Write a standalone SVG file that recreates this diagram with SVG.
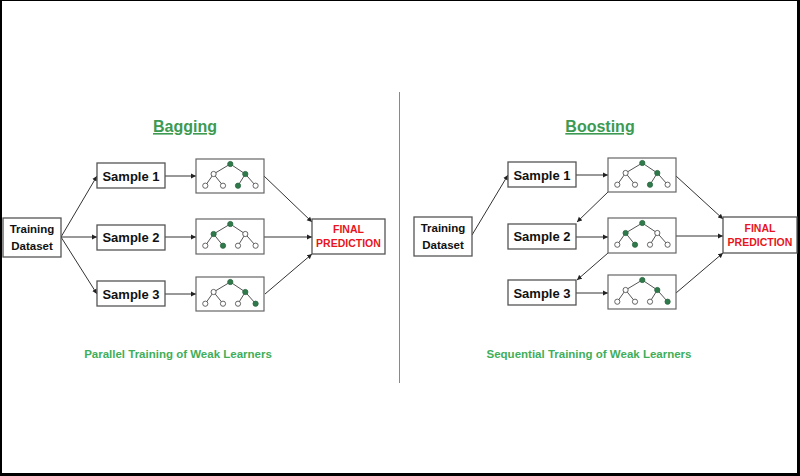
<svg xmlns="http://www.w3.org/2000/svg" width="800" height="476" viewBox="0 0 800 476">
<defs>
<style>
.box{fill:#fff;stroke:#555;stroke-width:1.3}
.tbox{fill:#fff;stroke:#666;stroke-width:1.2}
.lbl{font-family:"Liberation Sans",Arial,sans-serif;font-weight:bold;font-size:13px;fill:#111;text-anchor:middle}
.lbl2{font-family:"Liberation Sans",Arial,sans-serif;font-weight:bold;font-size:11.5px;fill:#111;text-anchor:middle}
.fin{font-family:"Liberation Sans",Arial,sans-serif;font-weight:bold;font-size:10.5px;fill:#e8141e;text-anchor:middle}
.title{font-family:"Liberation Sans",Arial,sans-serif;font-weight:bold;font-size:16px;fill:#3c9a52;text-anchor:middle;text-decoration:underline}
.sub{font-family:"Liberation Sans",Arial,sans-serif;font-weight:bold;font-size:11.5px;fill:#3fae5a;text-anchor:middle}
.conn line{stroke:#333;stroke-width:1;marker-end:url(#ah)}
.edge{stroke:#555;stroke-width:1;fill:none}
.n{stroke:#555;stroke-width:0.9;fill:#fff}
.g{fill:#2f7a4a;stroke:#2f6a44}
</style>
<marker id="ah" markerWidth="6" markerHeight="6" refX="5" refY="3" orient="auto" markerUnits="userSpaceOnUse">
<path d="M0,0.5 L5,3 L0,5.5 Z" fill="#222"/>
</marker>
<path id="tedges" class="edge" d="M34.3,5 L17.6,15 M34.3,5 L49.3,15 M17.6,15 L9.3,26.7 M17.6,15 L27,26.7 M49.3,15 L42,26.7 M49.3,15 L59.6,26.7"/>
</defs>
<rect x="0" y="0" width="800" height="476" fill="#000"/>
<rect x="2" y="1" width="795" height="472" fill="#fff"/>
<line x1="399.5" y1="92" x2="399.5" y2="383" stroke="#6a9a80" stroke-width="1"/>

<text class="title" x="185" y="132">Bagging</text>
<text class="title" x="600" y="132">Boosting</text>
<text class="sub" x="178" y="358">Parallel Training of Weak Learners</text>
<text class="sub" x="589" y="358">Sequential Training of Weak Learners</text>

<g class="conn" id="connectors">
<line x1="61" y1="237" x2="97" y2="176"/>
<line x1="61" y1="237" x2="97" y2="237"/>
<line x1="61" y1="237" x2="97" y2="294"/>
<line x1="165" y1="176" x2="196" y2="176"/>
<line x1="165" y1="237" x2="196" y2="237"/>
<line x1="165" y1="294" x2="196" y2="294"/>
<line x1="264" y1="176" x2="312" y2="222"/>
<line x1="264" y1="237" x2="312" y2="237"/>
<line x1="265" y1="294" x2="312" y2="254"/>
<line x1="472" y1="235" x2="508" y2="175"/>
<line x1="576" y1="175" x2="608" y2="175"/>
<line x1="576" y1="237" x2="608" y2="237"/>
<line x1="576" y1="293" x2="608" y2="293"/>
<line x1="608" y1="192" x2="577" y2="222"/>
<line x1="608" y1="253" x2="577" y2="280"/>
<line x1="676" y1="176" x2="723" y2="219"/>
<line x1="676" y1="236" x2="723" y2="236"/>
<line x1="676" y1="293" x2="723" y2="253"/>
</g>

<g id="bag-training"><rect class="box" x="3" y="218" width="58" height="39"/><text class="lbl2" x="32" y="233">Training</text><text class="lbl2" x="32" y="250">Dataset</text></g>
<g id="bag-sample1"><rect class="box" x="97" y="163" width="68" height="25"/><text class="lbl" x="131" y="181">Sample 1</text></g>
<g id="bag-sample2"><rect class="box" x="97" y="225" width="68" height="25"/><text class="lbl" x="131" y="242">Sample 2</text></g>
<g id="bag-sample3"><rect class="box" x="97" y="281" width="68" height="25"/><text class="lbl" x="131" y="299">Sample 3</text></g>
<g id="bag-final"><rect class="box" x="312" y="219" width="73" height="35"/><text class="fin" x="348.5" y="233">FINAL</text><text class="fin" x="348.5" y="247">PREDICTION</text></g>

<g id="bag-tree1" transform="translate(196,159)"><rect class="tbox" x="0" y="0" width="68" height="34"/><use href="#tedges"/>
<circle class="n g" cx="34.3" cy="5" r="2.6"/><circle class="n" cx="17.6" cy="15" r="2.6"/><circle class="n g" cx="49.3" cy="15" r="2.6"/>
<circle class="n" cx="9.3" cy="26.7" r="2.6"/><circle class="n" cx="27" cy="26.7" r="2.6"/><circle class="n g" cx="42" cy="26.7" r="2.6"/><circle class="n" cx="59.6" cy="26.7" r="2.6"/></g>
<g id="bag-tree2" transform="translate(196,219)"><rect class="tbox" x="0" y="0" width="68" height="35"/><use href="#tedges"/>
<circle class="n g" cx="34.3" cy="5" r="2.6"/><circle class="n g" cx="17.6" cy="15" r="2.6"/><circle class="n" cx="49.3" cy="15" r="2.6"/>
<circle class="n" cx="9.3" cy="26.7" r="2.6"/><circle class="n g" cx="27" cy="26.7" r="2.6"/><circle class="n" cx="42" cy="26.7" r="2.6"/><circle class="n" cx="59.6" cy="26.7" r="2.6"/></g>
<g id="bag-tree3" transform="translate(196,277)"><rect class="tbox" x="0" y="0" width="68" height="34"/><use href="#tedges"/>
<circle class="n g" cx="34.3" cy="5" r="2.6"/><circle class="n" cx="17.6" cy="15" r="2.6"/><circle class="n g" cx="49.3" cy="15" r="2.6"/>
<circle class="n" cx="9.3" cy="26.7" r="2.6"/><circle class="n" cx="27" cy="26.7" r="2.6"/><circle class="n" cx="42" cy="26.7" r="2.6"/><circle class="n g" cx="59.6" cy="26.7" r="2.6"/></g>

<g id="boost-training"><rect class="box" x="414" y="217" width="58" height="39"/><text class="lbl2" x="443" y="232">Training</text><text class="lbl2" x="443" y="249">Dataset</text></g>
<g id="boost-sample1"><rect class="box" x="508" y="162" width="68" height="25"/><text class="lbl" x="542" y="180">Sample 1</text></g>
<g id="boost-sample2"><rect class="box" x="508" y="224" width="68" height="25"/><text class="lbl" x="542" y="241">Sample 2</text></g>
<g id="boost-sample3"><rect class="box" x="508" y="280" width="68" height="25"/><text class="lbl" x="542" y="298">Sample 3</text></g>
<g id="boost-final"><rect class="box" x="723" y="217" width="74" height="36"/><text class="fin" x="760" y="232">FINAL</text><text class="fin" x="760" y="246">PREDICTION</text></g>

<g id="boost-tree1" transform="translate(608,158)"><rect class="tbox" x="0" y="0" width="68" height="34"/><use href="#tedges"/>
<circle class="n g" cx="34.3" cy="5" r="2.6"/><circle class="n" cx="17.6" cy="15" r="2.6"/><circle class="n g" cx="49.3" cy="15" r="2.6"/>
<circle class="n" cx="9.3" cy="26.7" r="2.6"/><circle class="n" cx="27" cy="26.7" r="2.6"/><circle class="n g" cx="42" cy="26.7" r="2.6"/><circle class="n" cx="59.6" cy="26.7" r="2.6"/></g>
<g id="boost-tree2" transform="translate(608,218)"><rect class="tbox" x="0" y="0" width="68" height="35"/><use href="#tedges"/>
<circle class="n g" cx="34.3" cy="5" r="2.6"/><circle class="n g" cx="17.6" cy="15" r="2.6"/><circle class="n" cx="49.3" cy="15" r="2.6"/>
<circle class="n" cx="9.3" cy="26.7" r="2.6"/><circle class="n g" cx="27" cy="26.7" r="2.6"/><circle class="n" cx="42" cy="26.7" r="2.6"/><circle class="n" cx="59.6" cy="26.7" r="2.6"/></g>
<g id="boost-tree3" transform="translate(608,275)"><rect class="tbox" x="0" y="0" width="68" height="34"/><use href="#tedges"/>
<circle class="n g" cx="34.3" cy="5" r="2.6"/><circle class="n" cx="17.6" cy="15" r="2.6"/><circle class="n g" cx="49.3" cy="15" r="2.6"/>
<circle class="n" cx="9.3" cy="26.7" r="2.6"/><circle class="n" cx="27" cy="26.7" r="2.6"/><circle class="n" cx="42" cy="26.7" r="2.6"/><circle class="n g" cx="59.6" cy="26.7" r="2.6"/></g>
</svg>
